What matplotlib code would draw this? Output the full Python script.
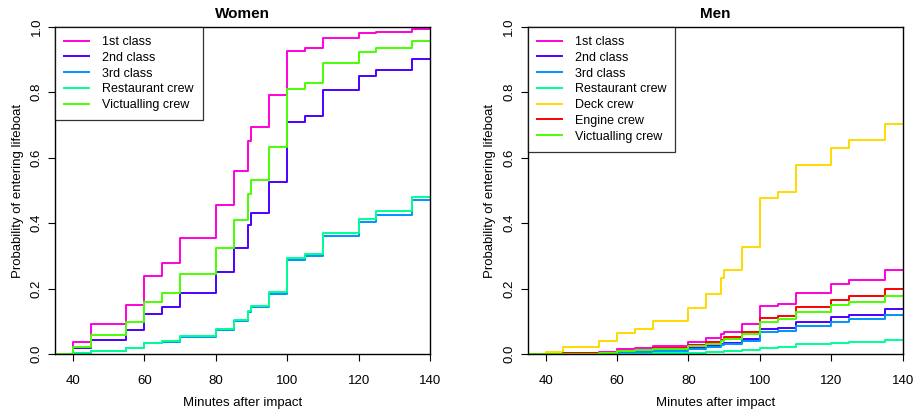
# Import Modules
import matplotlib
matplotlib.use("Agg")
import matplotlib.pyplot as plt

plt.rcParams["font.family"] = ["Liberation Sans", "DejaVu Sans"]

# Times (minutes after impact) where the curves step up
Times = [40, 45, 55, 60, 65, 70, 80, 85, 89, 90, 95, 100, 105, 110, 120, 125, 135]

# Women
W_1st = [0.037, 0.092, 0.150, 0.239, 0.278, 0.354, 0.457, 0.560, 0.650, 0.694, 0.791, 0.925, 0.935, 0.967, 0.982, 0.985, 0.992]
W_2nd = [0.018, 0.044, 0.073, 0.122, 0.143, 0.188, 0.251, 0.323, 0.394, 0.432, 0.527, 0.709, 0.728, 0.806, 0.849, 0.868, 0.901]
W_3rd = [0.003, 0.010, 0.018, 0.033, 0.038, 0.053, 0.075, 0.101, 0.129, 0.144, 0.185, 0.288, 0.300, 0.361, 0.405, 0.425, 0.470]
W_rest = [0.003, 0.011, 0.020, 0.035, 0.040, 0.056, 0.078, 0.104, 0.133, 0.148, 0.190, 0.295, 0.307, 0.370, 0.414, 0.436, 0.481]
W_vict = [0.023, 0.060, 0.099, 0.161, 0.188, 0.244, 0.323, 0.409, 0.490, 0.532, 0.634, 0.810, 0.827, 0.890, 0.922, 0.934, 0.955]

# Men
M_1st = [0.001, 0.003, 0.006, 0.015, 0.018, 0.026, 0.037, 0.049, 0.061, 0.069, 0.092, 0.146, 0.154, 0.188, 0.216, 0.227, 0.256]
M_2nd = [0.000, 0.001, 0.003, 0.007, 0.009, 0.012, 0.018, 0.025, 0.031, 0.035, 0.046, 0.076, 0.081, 0.099, 0.113, 0.121, 0.137]
M_3rd = [0.000, 0.001, 0.002, 0.005, 0.007, 0.010, 0.015, 0.021, 0.027, 0.031, 0.040, 0.067, 0.071, 0.085, 0.100, 0.108, 0.119]
M_rest = [0.000, 0.000, 0.000, 0.001, 0.002, 0.003, 0.004, 0.006, 0.008, 0.009, 0.013, 0.020, 0.022, 0.030, 0.035, 0.037, 0.043]
M_deck = [0.008, 0.023, 0.040, 0.066, 0.077, 0.103, 0.140, 0.185, 0.232, 0.257, 0.326, 0.478, 0.496, 0.578, 0.631, 0.655, 0.704]
M_engine = [0.001, 0.003, 0.005, 0.011, 0.014, 0.020, 0.028, 0.037, 0.045, 0.052, 0.069, 0.112, 0.118, 0.145, 0.167, 0.177, 0.199]
M_vict = [0.001, 0.002, 0.005, 0.009, 0.012, 0.017, 0.024, 0.032, 0.040, 0.047, 0.062, 0.100, 0.107, 0.130, 0.149, 0.159, 0.179]

# Colours per group
Colors = {
    "1st class": "#FF00DB",
    "2nd class": "#4900FF",
    "3rd class": "#0092FF",
    "Restaurant crew": "#00FF92",
    "Deck crew": "#FFDB00",
    "Engine crew": "#FF0000",
    "Victualling crew": "#49FF00",
}

Women = [("1st class", W_1st), ("2nd class", W_2nd), ("3rd class", W_3rd),
         ("Restaurant crew", W_rest), ("Victualling crew", W_vict)]
Men = [("1st class", M_1st), ("2nd class", M_2nd), ("3rd class", M_3rd),
       ("Restaurant crew", M_rest), ("Deck crew", M_deck),
       ("Engine crew", M_engine), ("Victualling crew", M_vict)]

fig = plt.figure(figsize=(9.17, 4.11), dpi=100)
ax_w = fig.add_axes([0.060, 0.138, 0.409, 0.797])
ax_m = fig.add_axes([0.5755, 0.138, 0.409, 0.797])

for ax, groups, title in [(ax_w, Women, "Women"), (ax_m, Men, "Men")]:
    for name, vals in groups:
        # step curve: zero before the first time, hold the last value to 140
        x = [35] + Times + [140]
        y = [0] + vals + [vals[-1]]
        ax.step(x, y, where="post", color=Colors[name], lw=1.4, label=name)
    ax.set_xlim(35, 140)
    ax.set_ylim(0, 1)
    ax.set_xticks([40, 60, 80, 100, 120, 140])
    ax.set_yticks([0, 0.2, 0.4, 0.6, 0.8, 1.0])
    ax.set_yticklabels(["0.0", "0.2", "0.4", "0.6", "0.8", "1.0"], rotation=90, va="center")
    ax.tick_params(direction="out", length=5, width=0.8, labelsize=9.5)
    ax.tick_params(axis="x", pad=10)
    ax.tick_params(axis="y", pad=4)
    for s in ax.spines.values():
        s.set_linewidth(1.0)
    ax.set_title(title, fontsize=11, fontweight="bold", pad=6)
    ax.set_xlabel("Minutes after impact", fontsize=9.5, labelpad=7)
    ax.set_ylabel("Probability of entering lifeboat", fontsize=9.5, labelpad=5)
    leg = ax.legend(loc="upper left", borderaxespad=0, fontsize=9, fancybox=False,
                    frameon=True, handlelength=2.0, handletextpad=1.0,
                    labelspacing=0.3, borderpad=0.75)
    leg.get_frame().set_edgecolor("black")
    leg.get_frame().set_linewidth(0.9)

fig.savefig("out.png", dpi=100)
